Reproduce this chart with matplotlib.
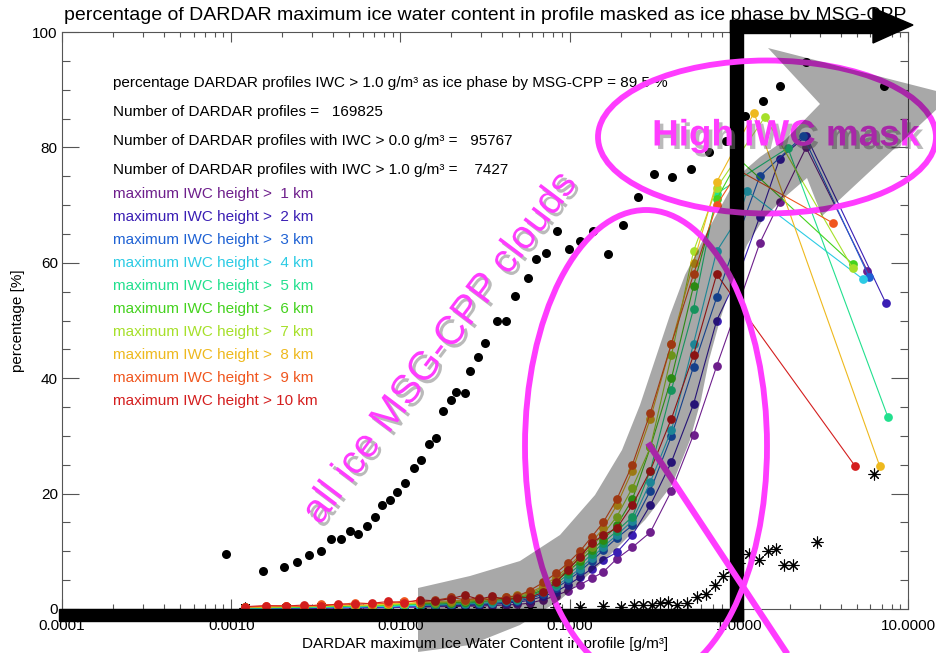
import matplotlib
matplotlib.use('Agg')
import matplotlib.pyplot as plt
import matplotlib.patheffects as pe
from matplotlib.patches import Ellipse, Polygon, Rectangle
from matplotlib.ticker import LogLocator, MultipleLocator, FixedLocator, FixedFormatter, NullFormatter

plt.rcParams['font.family'] = ['Liberation Sans', 'DejaVu Sans']

# all ice clouds: fraction of profiles flagged as ice, per max-IWC bin
iwc_all = [0.000933, 0.00155, 0.00204, 0.00245, 0.00288, 0.00339, 0.00389, 0.00447,
           0.00501, 0.00562, 0.00631, 0.00708, 0.00776, 0.00871, 0.00955, 0.0107,
           0.0120, 0.0132, 0.0148, 0.0162, 0.0178, 0.0200, 0.0214, 0.0240, 0.0258,
           0.0288, 0.0316, 0.0372, 0.0421, 0.0475, 0.0568, 0.0632, 0.0726, 0.0843,
           0.0991, 0.115, 0.137, 0.169, 0.207, 0.254, 0.315, 0.403, 0.522, 0.667,
           0.839, 1.09, 1.39, 1.75, 2.49, 7.21]
pct_all = [9.5, 6.6, 7.3, 8.1, 9.4, 10.0, 12.1, 12.1, 13.5, 13.0,
           14.4, 15.9, 18.0, 18.9, 20.3, 21.8, 24.4, 25.8, 28.6, 29.6,
           34.3, 36.2, 37.6, 37.4, 41.2, 43.7, 46.1, 49.9, 49.9, 54.2,
           57.4, 60.7, 61.7, 65.5, 62.4, 63.8, 65.5, 61.5, 66.6, 71.4,
           75.4, 74.9, 76.3, 79.2, 81.1, 85.4, 88.0, 90.6, 94.8, 90.6]

# asterisks: second fraction
iwc_star = [0.0012, 0.0021, 0.0034, 0.0054, 0.0085, 0.013, 0.02, 0.029, 0.042,
            0.058, 0.083, 0.115, 0.158, 0.2, 0.240, 0.272, 0.307, 0.342, 0.382,
            0.432, 0.494, 0.566, 0.640, 0.722, 0.807, 0.90, 1.0, 1.15, 1.31,
            1.49, 1.66, 1.85, 2.09, 2.90, 6.30]
pct_star = [0.2, 0.1, 0.3, 0.2, 0.3, 0.2, 0.3, 0.4, 0.3,
            0.4, 0.3, 0.4, 0.5, 0.4, 0.7, 0.7, 0.7, 1.0, 1.2,
            0.7, 1.0, 2.1, 2.6, 4.2, 5.7, 7.0, 8.0, 9.5, 8.5,
            10.1, 10.4, 7.6, 7.6, 11.6, 23.4]

# bins shared by the height classes
iwc_bins = [0.0012, 0.0016, 0.0021, 0.0027, 0.0034, 0.0043, 0.0054, 0.0068, 0.0085,
            0.0105, 0.013, 0.016, 0.02, 0.024, 0.029, 0.035, 0.042, 0.049,
            0.058, 0.070, 0.083, 0.098, 0.115, 0.135, 0.158, 0.19, 0.235, 0.30,
            0.40, 0.54, 0.74]

pct_1km = [0.0, 0.1, 0.0, 0.1, 0.1, 0.2, 0.1, 0.2, 0.2, 0.3, 0.3, 0.4, 0.4, 0.5, 0.5, 0.6, 0.7, 0.8,
           1.0, 1.6, 2.3, 3.2, 4.2, 5.3, 6.4, 8.7, 10.7, 13.3, 20.5, 30.2, 42.1]
pct_2km = [0.1, 0.1, 0.2, 0.1, 0.2, 0.2, 0.3, 0.2, 0.3, 0.4, 0.4, 0.5, 0.6, 0.6, 0.7, 0.8, 1.0, 1.2,
           1.5, 2.2, 3.0, 4.2, 5.5, 7.0, 8.5, 9.8, 12.8, 18.0, 25.5, 35.5, 50.0]
pct_3km = [0.1, 0.2, 0.1, 0.2, 0.3, 0.2, 0.3, 0.4, 0.3, 0.5, 0.5, 0.6, 0.7, 0.8, 0.8, 1.0, 1.2, 1.4,
           1.8, 2.6, 3.6, 5.0, 6.5, 8.3, 10.2, 12.3, 14.5, 20.5, 30.0, 42.0, 54.0]
pct_4km = [0.2, 0.1, 0.3, 0.2, 0.3, 0.4, 0.3, 0.5, 0.4, 0.6, 0.6, 0.7, 0.8, 0.9, 1.0, 1.1, 1.3, 1.6,
           2.0, 2.9, 4.0, 5.4, 7.0, 8.8, 10.8, 12.8, 15.3, 22.0, 31.0, 46.0, 62.0]
pct_5km = [0.1, 0.3, 0.2, 0.4, 0.3, 0.5, 0.4, 0.6, 0.5, 0.7, 0.8, 0.8, 1.0, 1.0, 1.2, 1.3, 1.5, 1.8,
           2.2, 3.2, 4.4, 6.0, 7.6, 9.5, 11.5, 13.5, 16.0, 24.0, 38.0, 52.0, 72.0]
pct_6km = [0.3, 0.2, 0.4, 0.3, 0.5, 0.4, 0.6, 0.5, 0.7, 0.8, 0.9, 1.0, 1.1, 1.2, 1.3, 1.5, 1.7, 2.0,
           2.4, 3.4, 4.8, 6.5, 8.3, 10.2, 12.0, 14.5, 19.0, 28.0, 40.0, 56.0, 71.0]
pct_7km = [0.2, 0.4, 0.3, 0.5, 0.4, 0.6, 0.7, 0.6, 0.8, 0.9, 1.0, 1.1, 1.2, 1.4, 1.5, 1.6, 1.9, 2.2,
           2.6, 3.7, 5.1, 6.9, 8.8, 10.8, 13.0, 16.0, 21.0, 28.0, 44.0, 62.0, 73.0]
pct_8km = [0.4, 0.3, 0.5, 0.4, 0.6, 0.7, 0.5, 0.8, 0.9, 1.0, 1.1, 1.3, 1.4, 1.5, 1.7, 1.8, 2.0, 2.4,
           2.8, 4.0, 5.5, 7.3, 9.3, 11.5, 14.0, 18.0, 24.0, 33.0, 46.0, 60.0, 74.0]
pct_9km = [0.3, 0.5, 0.6, 0.4, 0.8, 0.7, 1.1, 0.9, 1.0, 1.4, 1.2, 1.5, 2.0, 1.6, 1.9, 1.5, 2.1, 2.2,
           3.2, 4.6, 6.2, 8.0, 10.0, 12.5, 15.0, 19.0, 25.0, 34.0, 46.0, 58.0, 70.0]
pct_10km = [0.4, 0.6, 0.5, 0.7, 0.5, 0.9, 0.8, 1.0, 1.3, 1.1, 1.6, 1.4, 1.8, 2.4, 1.7, 2.2, 1.6, 1.9,
            2.0, 2.9, 4.6, 6.8, 9.0, 11.4, 12.8, 14.0, 18.0, 24.0, 33.0, 44.0, 58.0]

# last few (sparse) bins of each height class
tail_iwc = [[1.0, 1.33, 1.74, 2.5, 5.75],
            [1.0, 1.33, 1.74, 2.5, 7.4],
            [1.0, 1.33, 2.4, 5.9],
            [1.0, 1.12, 5.4],
            [1.95, 7.6],
            [1.0, 4.7],
            [1.43, 4.7],
            [1.23, 6.8],
            [1.0, 3.6],
            [4.86]]
tail_pct = [[53.0, 63.4, 70.5, 80.0, 58.6],
            [58.0, 68.0, 78.0, 82.0, 53.0],
            [65.0, 75.0, 82.0, 57.5],
            [68.0, 72.4, 57.2],
            [79.9, 33.3],
            [78.0, 59.8],
            [85.3, 59.1],
            [86.0, 24.8],
            [76.0, 66.9],
            [24.8]]

heights = [1, 2, 3, 4, 5, 6, 7, 8, 9, 10]
height_pct = [pct_1km, pct_2km, pct_3km, pct_4km, pct_5km,
              pct_6km, pct_7km, pct_8km, pct_9km, pct_10km]
colors = ['#6e1f8c', '#3a1eb4', '#1f62d4', '#2ccbe4', '#22e08e',
          '#44d21e', '#a6e02a', '#eeb91e', '#f0561e', '#d41e1e']

W, H = 936, 653
fig = plt.figure(figsize=(W / 100, H / 100), dpi=100)
ax = fig.add_axes([62 / W, 1 - 609 / H, 846 / W, 577 / H])

ax.plot(iwc_all, pct_all, 'o', color='black', ms=6.5, mec='none', zorder=2)
ax.plot(iwc_star, pct_star, linestyle='none', marker=(8, 2, 0), color='black',
        ms=8.5, mew=0.8, zorder=2)

for k in range(len(heights)):
    xs = iwc_bins + tail_iwc[k]
    ys = height_pct[k] + tail_pct[k]
    ax.plot(xs, ys, '-', color=colors[k], lw=0.8, marker='o', ms=6.3,
            mec='none', zorder=3 + 0.1 * k)

ax.set_xscale('log')
ax.set_xlim(0.0001, 10)
ax.set_ylim(0, 100)
ax.xaxis.set_major_locator(FixedLocator([0.0001, 0.001, 0.01, 0.1, 1, 10]))
ax.xaxis.set_major_formatter(FixedFormatter(['0.0001', '0.0010', '0.0100', '0.1000', '1.0000', '10.0000']))
ax.xaxis.set_minor_locator(LogLocator(base=10, subs=range(2, 10)))
ax.xaxis.set_minor_formatter(NullFormatter())
ax.yaxis.set_major_locator(MultipleLocator(20))
ax.yaxis.set_minor_locator(MultipleLocator(5))
ax.tick_params(which='both', direction='in', top=True, right=True, colors='#555555',
               labelcolor='black', labelsize=11, width=0.8)
ax.tick_params(axis='x', which='major', length=7, pad=7)
ax.tick_params(axis='x', which='minor', length=3.5)
ax.tick_params(axis='y', which='major', length=12, pad=3)
ax.tick_params(axis='y', which='minor', length=6)
for s in ax.spines.values():
    s.set_color('#555555')
    s.set_linewidth(0.8)
ax.set_xlabel('DARDAR maximum Ice Water Content in profile [g/m³]', fontsize=11, labelpad=3)
ax.set_ylabel('percentage [%]', fontsize=11, labelpad=5)

fig.text(485 / W, 1 - 16 / H,
         'percentage of DARDAR maximum ice water content in profile masked as ice phase by MSG-CPP',
         ha='center', va='center', fontsize=14)

info = ['percentage DARDAR profiles IWC > 1.0 g/m³ as ice phase by MSG-CPP = 89.5 %',
        'Number of DARDAR profiles =   169825',
        'Number of DARDAR profiles with IWC > 0.0 g/m³ =   95767',
        'Number of DARDAR profiles with IWC > 1.0 g/m³ =    7427']
info_y = [91.2, 86.1, 81.1, 76.1]
for txt, yv in zip(info, info_y):
    ax.text(0.0002, yv, txt, fontsize=11, va='center', zorder=1)
for k, h in enumerate(heights):
    ax.text(0.0002, 72 - 4 * k, 'maximum IWC height > %2d km' % h, color=colors[k],
            fontsize=11, va='center', zorder=1)

# annotation layer in pixel coordinates
ov = fig.add_axes([0, 0, 1, 1])
ov.set_xlim(0, W)
ov.set_ylim(H, 0)
ov.axis('off')
ov.patch.set_alpha(0)
ov.set_zorder(5)

# black L-shaped arrow
ov.add_patch(Rectangle((59, 609), 684, 12, color='black', zorder=1))
ov.add_patch(Rectangle((730, 20), 13, 601, color='black', zorder=1))
ov.add_patch(Rectangle((730, 20), 150, 13, color='black', zorder=1))
ov.add_patch(Polygon([(873, 8), (913, 25), (873, 43)], closed=True, color='black', zorder=1))

mag = '#ff3cff'
shadow = [pe.SimplePatchShadow(offset=(2.5, -2.5), shadow_rgbFace='#777777', alpha=0.5), pe.Normal()]
ov.add_patch(Ellipse((767, 137), 338, 153, fill=False, ec=mag, lw=4.2, zorder=2))
ov.add_patch(Ellipse((646, 446), 242, 472, fill=False, ec=mag, lw=4.2, zorder=2))
ov.plot([648, 790], [443, 658], color=mag, lw=4.5, solid_capstyle='butt', zorder=2)

ov.text(440, 348, 'all ice MSG-CPP clouds', color=mag, fontsize=29, rotation=53,
        ha='center', va='center', rotation_mode='anchor', path_effects=shadow, zorder=3)
ov.text(786, 136, 'High IWC mask', color=mag, fontsize=26.5, fontweight='bold',
        ha='center', va='center', path_effects=shadow, zorder=3)

# grey curved arrow, drawn translucent over everything
outer = [(418, 588), (470, 576), (520, 561), (560, 535), (595, 495), (622, 450),
         (640, 405), (655, 360), (670, 315), (685, 275), (707, 232), (737, 177),
         (760, 157), (785, 140), (820, 104)]
head = [(768, 48), (952, 95), (822, 216), (807, 178)]
inner = [(786, 196), (764, 218), (747, 245), (733, 280), (720, 320), (709, 360),
         (701, 400), (690, 440), (672, 485), (645, 520), (605, 560), (560, 600),
         (520, 625), (470, 645), (418, 652)]
ov.add_patch(Polygon(outer + head + inner, closed=True, fc='black', ec='none',
                     alpha=0.34, zorder=4))

fig.savefig('out.png', dpi=100)
